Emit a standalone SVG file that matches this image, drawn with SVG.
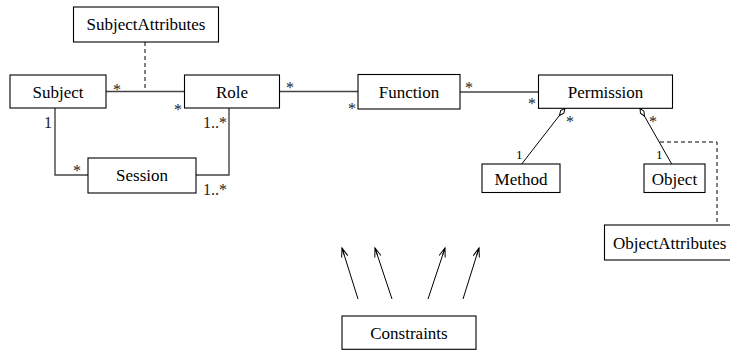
<svg xmlns="http://www.w3.org/2000/svg" width="730" height="352" viewBox="0 0 730 352">
<style>
.box{fill:#fff;stroke:#000;stroke-width:1.1}
.lbl{font-family:"Liberation Serif","Times New Roman",serif;font-size:17px;fill:#000;text-anchor:middle}
.m{font-family:"Liberation Serif","Times New Roman",serif;font-size:16px;fill:#222}
.ms{font-family:"Liberation Serif","Times New Roman",serif;font-size:13px;fill:#000}
.ln{fill:none;stroke:#444;stroke-width:1.4}
.thin{fill:none;stroke:#000;stroke-width:1}
.dash{fill:none;stroke:#000;stroke-width:1;stroke-dasharray:4 3}
</style>
<defs>
<marker id="dia" markerUnits="userSpaceOnUse" markerWidth="12" markerHeight="8" refX="0" refY="4" orient="auto" viewBox="0 0 12 8" overflow="visible">
<path d="M0,4 L4.5,2 L9,4 L4.5,6 Z" fill="#fff" stroke="#000" stroke-width="1"/>
</marker>
<marker id="arr" markerUnits="userSpaceOnUse" markerWidth="12" markerHeight="8" refX="10" refY="4" orient="auto" viewBox="0 0 12 8" overflow="visible">
<path d="M1,0.8 L10,4 L1,7.2 M10,4 L3,4" fill="none" stroke="#000" stroke-width="1"/>
</marker>
</defs>
<rect width="730" height="352" fill="#fff"/>
<g id="connectors">
<line class="dash" x1="145" y1="42" x2="145" y2="91.5"/>
<line class="ln" x1="106" y1="91.5" x2="184" y2="91.5"/>
<polyline class="ln" points="55,108 55,175 88,175"/>
<polyline class="ln" points="196,175 229,175 229,108"/>
<line class="ln" x1="280" y1="91.5" x2="358" y2="91.5"/>
<line class="ln" x1="460" y1="92" x2="538" y2="92"/>
<line class="thin" x1="565" y1="108.3" x2="521.7" y2="164" marker-start="url(#dia)"/>
<line class="thin" x1="640" y1="108.3" x2="671.7" y2="164" marker-start="url(#dia)"/>
<polyline class="dash" points="660,142 717,142 717,225"/>
<line class="thin" x1="358" y1="299" x2="342" y2="248" marker-end="url(#arr)"/>
<line class="thin" x1="392" y1="299" x2="375" y2="248" marker-end="url(#arr)"/>
<line class="thin" x1="428" y1="299" x2="445" y2="248" marker-end="url(#arr)"/>
<line class="thin" x1="463" y1="299" x2="479" y2="248" marker-end="url(#arr)"/>
</g>
<g id="labels">
<text class="m" x="113" y="95">*</text>
<text class="m" x="174" y="115">*</text>
<text class="m" x="44" y="128">1</text>
<text class="m" x="203" y="128">1..*</text>
<text class="m" x="73" y="176">*</text>
<text class="m" x="203" y="195">1..*</text>
<text class="m" x="286" y="93">*</text>
<text class="m" x="348" y="114">*</text>
<text class="m" x="465" y="93">*</text>
<text class="m" x="528" y="109">*</text>
<text class="m" x="566" y="127">*</text>
<text class="m" x="649" y="127">*</text>
<text class="ms" x="516" y="159">1</text>
<text class="ms" x="656" y="159">1</text>
</g>
<g id="SubjectAttributes"><rect class="box" x="73.5" y="7" width="145" height="35"/><text class="lbl" x="146" y="30">SubjectAttributes</text></g>
<g id="Subject"><rect class="box" x="10" y="75" width="96" height="33"/><text class="lbl" x="58" y="97.5">Subject</text></g>
<g id="Role"><rect class="box" x="184.5" y="75" width="95" height="33"/><text class="lbl" x="232" y="97.5">Role</text></g>
<g id="Session"><rect class="box" x="88" y="158" width="108" height="35"/><text class="lbl" x="142" y="181">Session</text></g>
<g id="Function"><rect class="box" x="358" y="74.5" width="102" height="34.5"/><text class="lbl" x="409" y="97.5">Function</text></g>
<g id="Permission"><rect class="box" x="538.5" y="75" width="134" height="33.3"/><text class="lbl" x="605.5" y="97.5">Permission</text></g>
<g id="Method"><rect class="box" x="482" y="164" width="78" height="28.5"/><text class="lbl" x="521" y="184.5">Method</text></g>
<g id="Object"><rect class="box" x="644" y="164" width="61" height="28.5"/><text class="lbl" x="674.5" y="184.5">Object</text></g>
<g id="ObjectAttributes"><rect class="box" x="604.5" y="225" width="130" height="35"/><text class="lbl" x="613" y="248.5" style="text-anchor:start">ObjectAttributes</text></g>
<g id="Constraints"><rect class="box" x="342" y="316" width="134" height="33.3"/><text class="lbl" x="409" y="338.5">Constraints</text></g>
</svg>
